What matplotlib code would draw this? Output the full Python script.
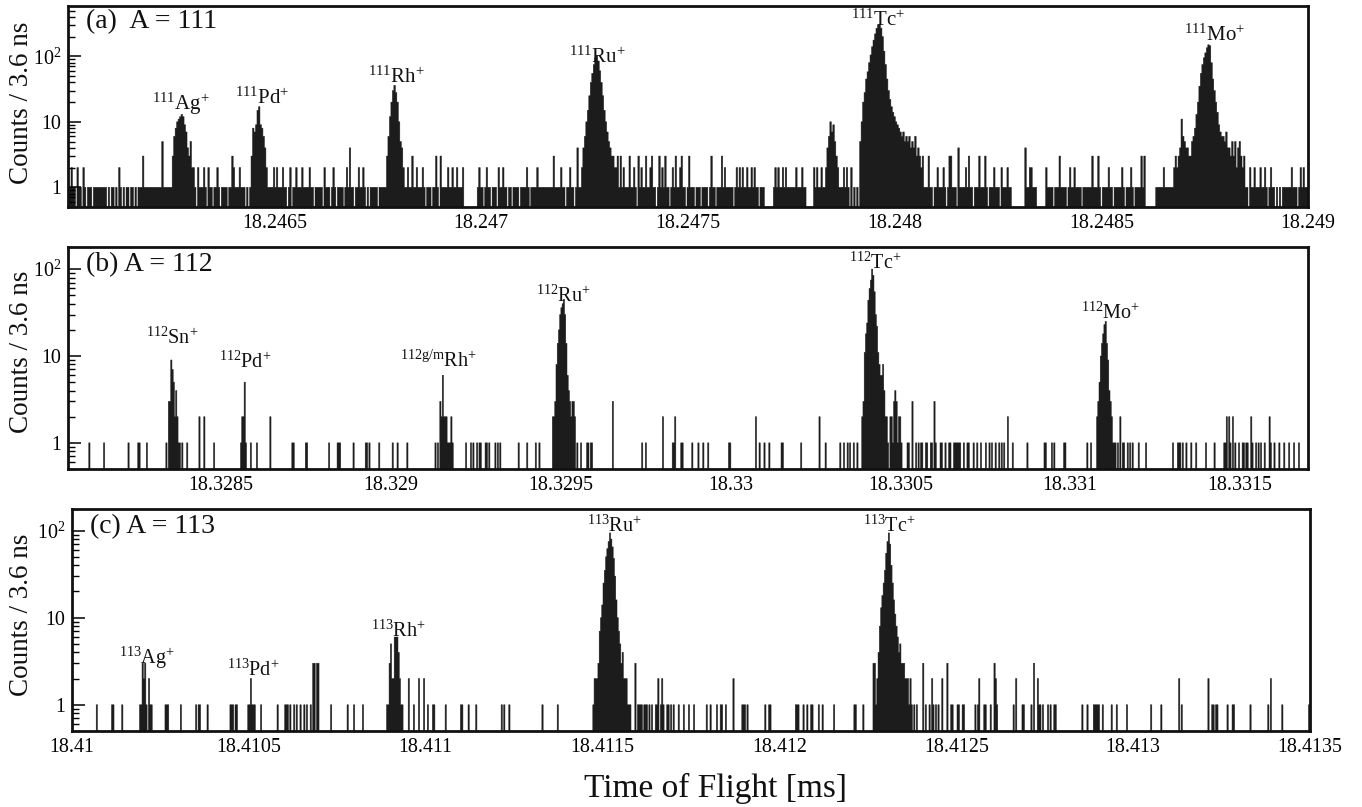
import numpy as np
import matplotlib
matplotlib.use("Agg")
import matplotlib.pyplot as plt
from matplotlib.ticker import FixedLocator, FixedFormatter, LogLocator, NullFormatter
import matplotlib.transforms as mtransforms

# ---------------------------------------------------------------- data
BIN_W = 3.6e-6  # ms per bin (3.6 ns)

# Panel (a) A = 111 : counts per bin, starting at 18.246 ms
a_t0 = 18.246
a_nbins = 834
a_segments = [
    "1121102110 2101110111 1111110101 1010210101 1011010111 3111111111 1115111111",
    [3, 6, 8, 10, 11, 12, 13, 12, 9, 7, 4, 3, 5, 2, 2],                      # 111Ag
    "1021112102 1101121011 1101132111 21110101",
    [3, 8, 7, 9, 15, 17, 9, 8, 6, 4, 2],                                      # 111Pd
    "1111212111 2110120112 1112111121 1011111021 1101210111 1012141101 1211210101 1111011111",
    [3, 6, 12, 20, 30, 36, 28, 20, 10, 5, 4, 2],                              # 111Rh
    "1121131121 1121011101 1310311112 1121121112 0000000001 2110121101 1102112110 "
    "1101111011 1121011112 1111111111 3111121101 121101411",
    [2, 4, 6, 10, 15, 25, 40, 55, 75, 95, 102, 85, 60, 40, 25, 15, 10, 7, 5, 4, 3, 3, 2, 2],  # 111Ru
    "3131211131 1210312113 1123110131 2131101213 1123110131 1101110111 1013110111 "
    "3121111101 2121211211 2121101110 00000 1212112121 1111121112 11 00000 21211211",
    [2, 4, 6, 10, 7, 9, 5, 3, 2],
    "11121210201010",
    [5, 10, 20, 28, 45, 58, 80, 105, 140, 177, 220, 268, 300, 310, 270, 200, 120, 75, 45, 30,
     22, 17, 14, 12, 10, 9, 8, 7, 6, 7, 5, 6, 5, 6, 4, 5, 4, 6, 3, 4, 3, 2, 3],  # 111Tc
    "1113110112 1112101331 1104111121 3110111311 1310111211 102111211 000000000 411221110 "
    "00000 2111101113 1111012112 11 1101111113 1113101111 21 1011111210 1112101111 313 "
    "0000000 1111121111 112",
    [3, 2, 3, 4, 11, 6, 5, 4, 4, 3, 3, 5, 6, 8, 13, 20, 35, 55, 75, 95, 113, 135, 150, 145,
     80, 45, 30, 20, 14, 9, 7, 6, 6, 5, 7, 4, 4, 3, 5, 3, 5, 2, 4, 5, 3, 2, 3],  # 111Mo
    "1102112111 2112101211 0101011111 1211101212 111",
]

# Panel (b) A = 112 : {channel: counts}, channel 0 starts at 18.32805 ms
b_t0 = 18.32805
b_nbins = 1014
b_hits = {
    17: 1, 29: 1, 49: 1, 57: 1, 58: 1, 64: 1, 80: 1,
    82: 3, 83: 3, 84: 9, 85: 7, 86: 5, 87: 2, 88: 4, 89: 2, 90: 1, 91: 1, 93: 1,
    97: 1, 107: 2, 111: 2, 119: 1,
    141: 1, 142: 2, 143: 2, 144: 5, 145: 1,
    149: 1, 154: 1, 165: 2, 183: 1, 184: 1, 194: 1, 195: 1, 213: 1, 220: 1, 221: 1, 222: 1,
    233: 1, 243: 1, 244: 1, 246: 1, 254: 1, 265: 1, 269: 1, 277: 1, 300: 1,
    302: 1, 304: 3, 305: 2, 306: 6, 307: 2, 308: 2, 309: 2, 310: 1, 311: 1, 312: 1, 313: 2, 314: 1,
    325: 1, 329: 1, 331: 1, 334: 1, 336: 1, 337: 1, 341: 1, 342: 1, 344: 1, 349: 1, 351: 1,
    353: 1, 368: 1, 375: 1, 382: 1, 385: 1,
    396: 2, 397: 2, 398: 3, 399: 8, 400: 14, 401: 20, 402: 30, 403: 36, 404: 40, 405: 45,
    406: 30, 407: 14, 408: 6, 409: 4, 410: 3, 411: 2, 412: 3, 413: 3, 414: 2, 416: 1, 419: 1,
    424: 1, 425: 1, 427: 1, 428: 1, 445: 3, 469: 1, 472: 1, 486: 2, 494: 1, 495: 1, 496: 2,
    501: 1, 502: 1, 510: 1, 515: 1, 519: 1, 523: 1, 540: 1, 541: 1, 562: 2, 565: 1, 569: 1,
    573: 1, 583: 1, 584: 1, 599: 1, 614: 2, 619: 1, 631: 1, 634: 1, 637: 1, 639: 1, 642: 1,
    645: 1, 649: 2,
    650: 3, 651: 11, 652: 18, 653: 24, 654: 44, 655: 60, 656: 75, 657: 100, 658: 85, 659: 55,
    660: 30, 661: 22, 662: 11, 663: 8, 664: 6, 665: 6, 666: 8, 667: 4, 668: 2, 669: 2, 670: 1,
    672: 2, 673: 2, 674: 1, 675: 3, 676: 4, 677: 3, 678: 1, 679: 2, 680: 2, 681: 1,
    686: 1, 687: 1, 690: 3, 693: 1, 695: 1, 697: 1, 698: 1, 701: 1, 702: 1, 705: 1, 706: 1,
    708: 3, 709: 1, 713: 1, 714: 1, 717: 1, 720: 1, 721: 1, 724: 1, 725: 1, 726: 1, 727: 1,
    728: 1, 729: 1, 732: 1, 735: 1, 736: 1, 740: 1, 743: 1, 746: 1, 750: 1, 753: 1, 755: 1,
    758: 1, 761: 1, 763: 1, 765: 1, 768: 2, 772: 1, 784: 1, 798: 1, 799: 1, 804: 1, 806: 1,
    814: 1, 815: 1, 833: 1, 836: 1,
    841: 2, 842: 3, 843: 5, 844: 10, 845: 14, 846: 18, 847: 23, 848: 25, 849: 14, 850: 9,
    851: 4, 852: 3, 853: 2, 854: 1, 855: 1,
    856: 1, 858: 1, 860: 2, 862: 1, 863: 1, 866: 1, 868: 1, 870: 1, 875: 1, 881: 1, 903: 1,
    907: 1, 908: 1, 909: 1, 911: 1, 914: 1, 918: 1, 922: 1, 930: 1, 937: 1, 945: 1, 946: 1,
    947: 2, 949: 2, 950: 1, 952: 2, 954: 1, 957: 1, 960: 1, 961: 1, 963: 1, 964: 1, 967: 2,
    968: 1, 971: 1, 973: 1, 975: 1, 978: 1, 982: 2, 983: 1, 986: 1, 990: 1, 994: 1, 998: 1,
    1002: 1, 1006: 1,
}

# Panel (c) A = 113 : {channel: counts}, channel 0 starts at 18.41 ms
c_t0 = 18.41
c_nbins = 973
c_hits = {
    19: 1, 31: 1, 32: 1, 39: 1,
    53: 1, 54: 1, 55: 3, 56: 2, 57: 3, 58: 1, 60: 2, 61: 1, 62: 1,
    73: 1, 74: 1, 75: 1, 85: 1, 97: 1, 99: 1, 100: 1, 106: 1, 124: 1, 125: 1, 126: 1, 128: 1,
    129: 1,
    138: 1, 139: 1, 140: 2, 141: 1, 142: 1, 143: 1,
    148: 1, 161: 1, 167: 1, 168: 1, 169: 1, 171: 1, 174: 1, 176: 1, 179: 1, 182: 1, 184: 1,
    187: 1, 189: 3, 190: 3, 192: 3, 193: 3, 203: 1, 216: 1, 221: 1, 228: 1,
    247: 1, 248: 1, 249: 3, 250: 5, 251: 2, 252: 2, 253: 6, 254: 6, 255: 6, 256: 4, 257: 2,
    258: 1, 259: 1,
    264: 2, 268: 1, 272: 2, 276: 2, 279: 1, 283: 1, 284: 1, 293: 1, 305: 1, 306: 1, 311: 1,
    317: 1, 337: 1, 339: 1, 343: 1, 369: 1, 381: 1,
    409: 1, 410: 2, 411: 2, 412: 2, 413: 3, 414: 7, 415: 10, 416: 14, 417: 25, 418: 35,
    419: 50, 420: 62, 421: 75, 422: 94, 423: 80, 424: 65, 425: 48, 426: 30, 427: 16, 428: 10,
    429: 7, 430: 5, 431: 3, 432: 4, 433: 2, 434: 2, 435: 2, 436: 1, 437: 1, 438: 1,
    442: 3, 444: 1, 445: 1, 446: 1, 447: 1, 449: 1, 450: 1, 451: 1, 453: 1, 455: 1, 458: 1,
    459: 1, 460: 2, 462: 1, 463: 2, 464: 1, 467: 1, 468: 1, 470: 1, 472: 1, 476: 1, 480: 1,
    484: 1, 488: 1, 498: 1, 501: 1, 506: 1, 509: 1, 510: 1, 513: 1, 519: 2, 526: 1, 527: 1,
    528: 1, 530: 1, 544: 1, 547: 1, 548: 1, 568: 1, 569: 1, 570: 1, 574: 1, 577: 1, 580: 1,
    581: 1, 586: 1, 589: 1, 598: 1, 614: 1, 615: 1, 621: 1,
    629: 3, 630: 3, 631: 1, 632: 2, 633: 4, 634: 8, 635: 13, 636: 18, 637: 25, 638: 35,
    639: 55, 640: 75, 641: 94, 642: 70, 643: 40, 644: 25, 645: 16, 646: 11, 647: 8, 648: 6,
    649: 4, 650: 5, 651: 3, 652: 3, 653: 3, 654: 2, 655: 2, 656: 2, 657: 1, 658: 2, 659: 1,
    661: 1, 663: 1, 668: 3, 670: 1, 673: 1, 675: 2, 676: 1, 678: 1, 680: 1, 683: 2, 687: 3,
    690: 1, 691: 1, 695: 1, 696: 1, 699: 1, 700: 1, 709: 1, 711: 1, 712: 2, 716: 1, 717: 1,
    721: 1, 724: 3, 725: 2, 726: 1, 739: 1, 741: 2, 746: 1, 747: 1, 753: 1, 755: 3, 758: 2,
    759: 1, 760: 1, 762: 1, 766: 1, 768: 1, 771: 1, 772: 1, 793: 1, 797: 1, 802: 1, 803: 1,
    804: 1, 805: 1, 806: 1, 809: 1, 816: 1, 820: 1, 828: 1, 847: 1, 855: 1, 869: 2, 871: 1,
    892: 2, 895: 1, 896: 1, 898: 1, 899: 1, 907: 1, 911: 1, 912: 1, 925: 1, 939: 1, 941: 2,
    950: 1, 971: 1,
}

# axis ranges and tick labels
a_xlim = (18.246, 18.249)
b_xlim = (18.32805, 18.3317)
c_xlim = (18.41, 18.4135)
a_xticks = ["18.2465", "18.247", "18.2475", "18.248", "18.2485", "18.249"]
b_xticks = ["18.3285", "18.329", "18.3295", "18.33", "18.3305", "18.331", "18.3315"]
c_xticks = ["18.41", "18.4105", "18.411", "18.4115", "18.412", "18.4125", "18.413", "18.4135"]
a_ymax, b_ymax, c_ymax = 587, 180, 177

a_title = "(a)  A = 111"
b_title = "(b) A = 112"
c_title = "(c) A = 113"

# peak labels: (text, time [ms]); vertical placement is layout (axes fraction)
a_labels = [(r"$^{111}$Ag$^{+}$", 18.246273), (r"$^{111}$Pd$^{+}$", 18.246469),
            (r"$^{111}$Rh$^{+}$", 18.246795), (r"$^{111}$Ru$^{+}$", 18.247280),
            (r"$^{111}$Tc$^{+}$", 18.247959), (r"$^{111}$Mo$^{+}$", 18.248773)]
b_labels = [(r"$^{112}$Sn$^{+}$", 18.328356), (r"$^{112}$Pd$^{+}$", 18.328571),
            (r"$^{112g/m}$Rh$^{+}$", 18.329141), (r"$^{112}$Ru$^{+}$", 18.329509),
            (r"$^{112}$Tc$^{+}$", 18.330426), (r"$^{112}$Mo$^{+}$", 18.331118)]
c_labels = [(r"$^{113}$Ag$^{+}$", 18.410212), (r"$^{113}$Pd$^{+}$", 18.410512),
            (r"$^{113}$Rh$^{+}$", 18.410924), (r"$^{113}$Ru$^{+}$", 18.411532),
            (r"$^{113}$Tc$^{+}$", 18.412310)]

# ---------------------------------------------------------------- layout / style
a_label_y = [0.483, 0.512, 0.617, 0.716, 0.903, 0.826]
b_label_y = [0.565, 0.455, 0.462, 0.755, 0.900, 0.675]
c_label_y = [0.302, 0.250, 0.424, 0.897, 0.897]

plt.rcParams["font.family"] = ["Liberation Serif", "DejaVu Serif"]
plt.rcParams["mathtext.fontset"] = "custom"
plt.rcParams["mathtext.rm"] = "Liberation Serif"
plt.rcParams["mathtext.it"] = "Liberation Serif:italic"
plt.rcParams["mathtext.bf"] = "Liberation Serif:bold"
plt.rcParams["mathtext.default"] = "regular"

INK = "#1c1c1c"
W, H = 1362, 807


def dense_counts(segments, n):
    vals = []
    for s in segments:
        if isinstance(s, str):
            vals.extend(int(ch) for ch in s if ch.isdigit())
        else:
            vals.extend(s)
    vals = (vals + [0] * n)[:n]
    return np.array(vals, dtype=float)


def sparse_counts(hits, n):
    arr = np.zeros(n)
    for ch, v in hits.items():
        arr[ch] = v
    return arr


fig = plt.figure(figsize=(W / 100, H / 100), dpi=100)


def make_axes(px_left, px_right, px_top, px_bottom):
    return fig.add_axes([px_left / W, 1 - px_bottom / H,
                         (px_right - px_left) / W, (px_bottom - px_top) / H])


panels = [
    (make_axes(68, 1308, 6, 207), a_t0, dense_counts(a_segments, a_nbins), a_xlim,
     a_xticks, a_ymax, a_title, a_labels, a_label_y, 15),
    (make_axes(68, 1308, 247, 469), b_t0, sparse_counts(b_hits, b_nbins), b_xlim,
     b_xticks, b_ymax, b_title, b_labels, b_label_y, 14.5),
    (make_axes(72, 1310, 509, 731), c_t0, sparse_counts(c_hits, c_nbins), c_xlim,
     c_xticks, c_ymax, c_title, c_labels, c_label_y, 14.5),
]

for (ax, t0, counts, xlim, xt, ymax, title, labels, label_y, lsize) in panels:
    edges = t0 + BIN_W * np.arange(len(counts) + 1)
    ax.stairs(counts, edges, fill=True, baseline=0.05, facecolor=INK,
              edgecolor=INK, linewidth=0.35)
    ax.set_yscale("log")
    ax.set_xlim(*xlim)
    ax.set_ylim(0.5, ymax)

    ax.xaxis.set_major_locator(FixedLocator([float(s) for s in xt]))
    ax.xaxis.set_major_formatter(FixedFormatter(xt))
    ax.tick_params(axis="x", length=0, pad=5, labelsize=14.4)

    ax.yaxis.set_major_locator(FixedLocator([1, 10, 100]))
    ax.yaxis.set_major_formatter(FixedFormatter(["1", "10", r"$10^{2}$"]))
    ax.yaxis.set_minor_locator(LogLocator(base=10, subs=np.arange(2, 10), numticks=20))
    ax.yaxis.set_minor_formatter(NullFormatter())
    ax.tick_params(axis="y", which="major", direction="in", length=9, width=1.1,
                   labelsize=14.4, pad=5, left=True, right=False)
    ax.tick_params(axis="y", which="minor", direction="in", length=5, width=1.0,
                   left=True, right=False)
    for sp in ax.spines.values():
        sp.set_linewidth(2.0)
        sp.set_color("#111111")

    ax.text(0.0145, 0.89, title, transform=ax.transAxes, fontsize=20,
            ha="left", va="baseline", color="#111111")

    trans = mtransforms.blended_transform_factory(ax.transData, ax.transAxes)
    for (txt, tx), fy in zip(labels, label_y):
        ax.text(tx, fy, txt, transform=trans, fontsize=lsize, ha="center",
                va="baseline", color="#111111")

# y axis titles
for yc in (103, 352, 615):
    fig.text(22 / W, 1 - yc / H, "Counts / 3.6 ns", rotation=90, fontsize=19.5,
             ha="center", va="center", color="#111111")

fig.text(716 / W, 1 - 797 / H, "Time of Flight [ms]", fontsize=24, ha="center",
         va="baseline", color="#111111")

fig.savefig("out.png", dpi=100)
